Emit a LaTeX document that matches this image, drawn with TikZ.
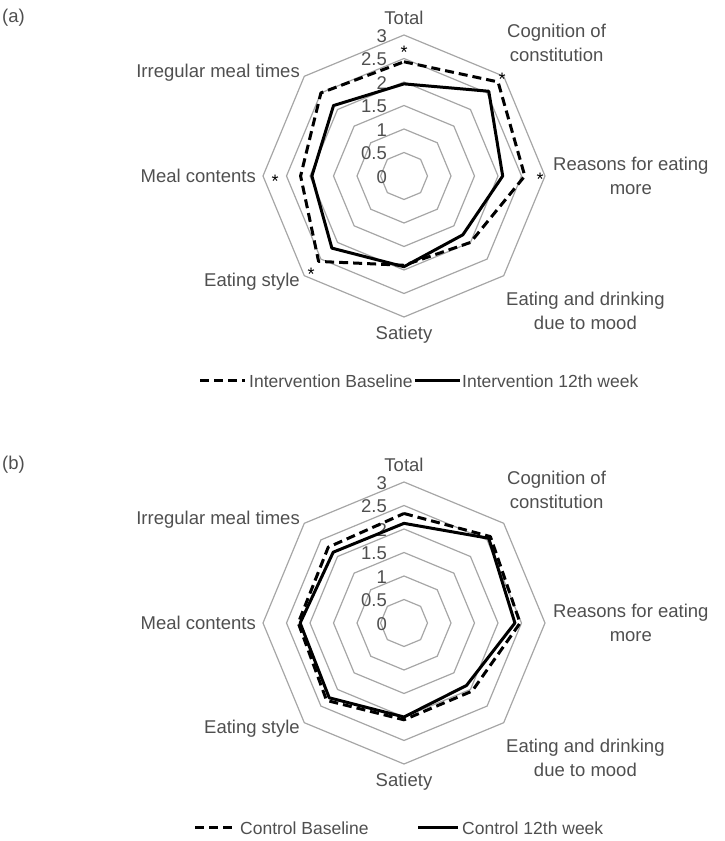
\documentclass[tikz,border=0pt]{standalone}
\usepackage{fontspec}
\setmainfont{Liberation Sans}
\usetikzlibrary{calc}
\definecolor{tgray}{HTML}{4F4F4F}
\definecolor{ggray}{HTML}{A6A6A6}
\tikzset{
  gridline/.style={draw=ggray,line width=1.2pt},
  dataline/.style={draw=black,line width=3pt,line join=round},
  dashline/.style={dataline,dash pattern=on 9pt off 5pt},
  lbl/.style={text=tgray,font=\fontsize{18.5}{24}\selectfont,align=center,inner sep=0pt},
  leg/.style={text=tgray,font=\fontsize{17.5}{22}\selectfont,inner sep=0pt,anchor=west},
  scl/.style={text=tgray,font=\fontsize{18.5}{22}\selectfont,anchor=east,inner sep=0pt},
  ast/.style={text=black,font=\fontsize{18}{18}\selectfont,inner sep=0pt}
}
\newcommand\mygrid{%
  \foreach \k in {1,...,6}{%
    \draw[gridline] (90:{\k*23.5pt}) -- (45:{\k*23.5pt}) -- (0:{\k*23.5pt}) -- (-45:{\k*23.5pt}) -- (-90:{\k*23.5pt}) -- (-135:{\k*23.5pt}) -- (180:{\k*23.5pt}) -- (135:{\k*23.5pt}) -- cycle;}
  \foreach \v/\t in {0/0,1/0.5,2/1,3/1.5,4/2,5/2.5,6/3}{%
    \node[scl] at (-17pt,{\v*23.5pt-1pt}) {\t};}
  \node[lbl] at (0,158pt) {Total};
  \node[lbl,anchor=west] at (103pt,133pt) {Cognition of\\constitution};
  \node[lbl,anchor=west] at (149pt,0pt) {Reasons for eating\\more};
  \node[lbl,anchor=west] at (102pt,-135pt) {Eating and drinking\\due to mood};
  \node[lbl] at (0,-159pt) {Satiety};
  \node[lbl,anchor=east] at (-104pt,-106pt) {Eating style};
  \node[lbl,anchor=east] at (-148pt,0pt) {Meal contents};
  \node[lbl,anchor=east] at (-104pt,103pt) {Irregular meal times};
}
\newcommand\mypoly[9]{%
  \draw[#1] (90:{#2*47pt}) -- (45:{#3*47pt}) -- (0:{#4*47pt}) -- (-45:{#5*47pt}) -- (-90:{#6*47pt}) -- (-135:{#7*47pt}) -- (180:{#8*47pt}) -- (135:{#9*47pt}) -- cycle;}
\begin{document}
\begin{tikzpicture}[x=1pt,y=1pt]
\useasboundingbox (0,0) rectangle (725,841);
% (a)
\node[lbl,anchor=west] at (2,823) {(a)};
\begin{scope}[shift={(404,665)}]
  \mygrid
  \mypoly{dashline}{2.43}{2.83}{2.57}{2.0}{1.9}{2.57}{2.2}{2.5}
  \mypoly{dataline}{1.96}{2.55}{2.1}{1.77}{1.93}{2.17}{1.96}{2.12}
  \node[ast] at (0,124) {*};
  \node[ast] at (98,97) {*};
  \node[ast] at (136,-3) {*};
  \node[ast] at (-129,-5) {*};
  \node[ast] at (-93,-98) {*};
\end{scope}
\draw[dashline] (200,460) -- (245,460);
\node[leg] at (249,460) {Intervention Baseline};
\draw[dataline] (415,460) -- (460,460);
\node[leg] at (462,460) {Intervention 12th week};
% (b)
\node[lbl,anchor=west] at (2,376) {(b)};
\begin{scope}[shift={(404,218)}]
  \mygrid
  \mypoly{dashline}{2.33}{2.6}{2.47}{2.05}{2.06}{2.33}{2.25}{2.28}
  \mypoly{dataline}{2.12}{2.55}{2.36}{1.88}{2.0}{2.25}{2.21}{2.13}
\end{scope}
\draw[dashline] (195,13) -- (235,13);
\node[leg] at (240,13) {Control Baseline};
\draw[dataline] (418,13) -- (458,13);
\node[leg] at (462,13) {Control 12th week};
\end{tikzpicture}
\end{document}
